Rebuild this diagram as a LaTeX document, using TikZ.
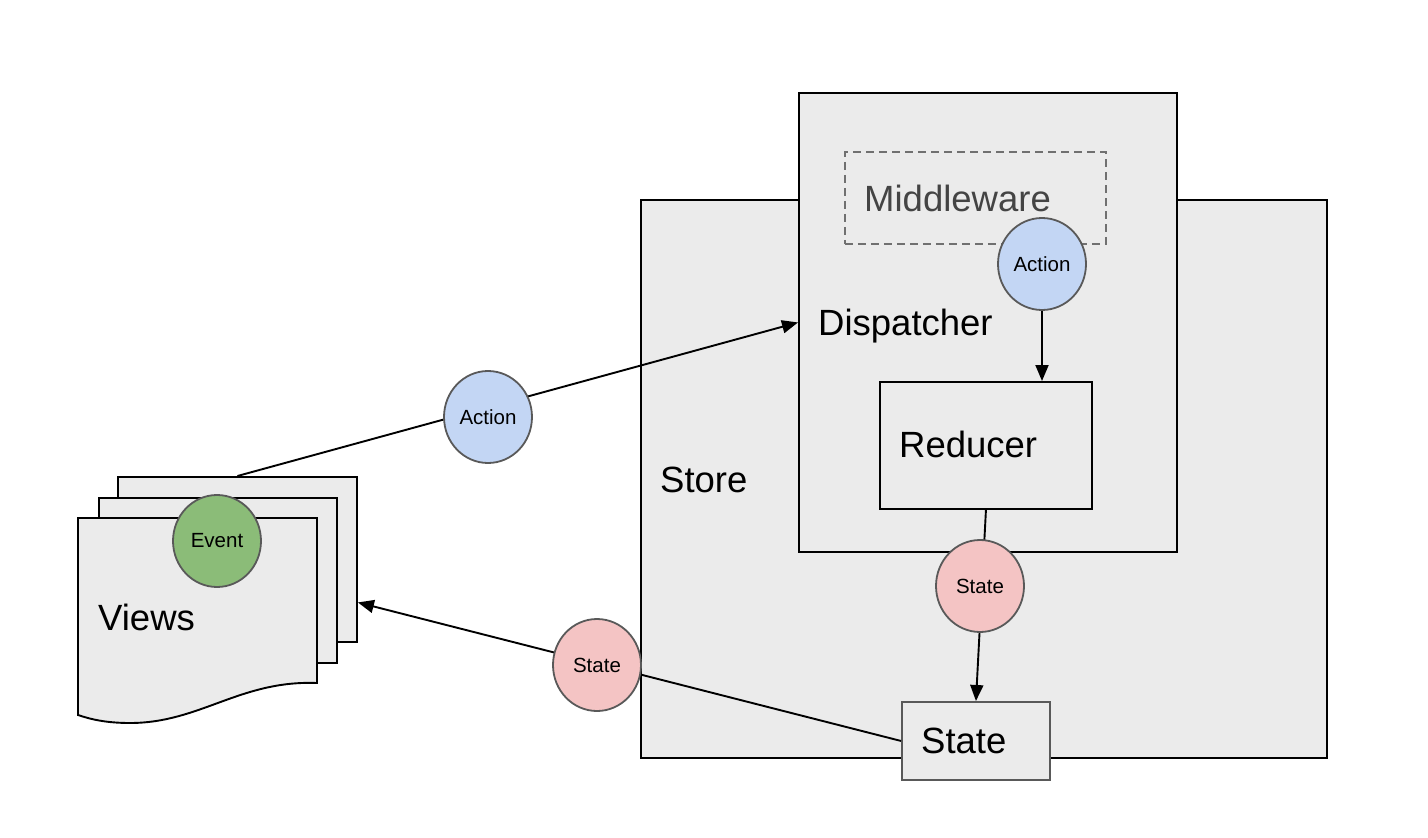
\documentclass[tikz,border=0pt]{standalone}
\usepackage{fontspec}
\setmainfont{Liberation Sans}
\usetikzlibrary{arrows.meta,shapes.geometric,calc}
\definecolor{boxfill}{HTML}{EBEBEB}
\definecolor{actfill}{HTML}{C3D6F4}
\definecolor{statefill}{HTML}{F4C4C4}
\definecolor{eventfill}{HTML}{8BBC78}
\definecolor{rimgray}{HTML}{595959}
\definecolor{dashgray}{HTML}{707070}
\definecolor{mwtext}{HTML}{444444}
\tikzset{
  panel/.style={draw=black, fill=boxfill, line width=1.9pt, rectangle, inner sep=0pt, anchor=north west},
  greypanel/.style={draw=rimgray, fill=boxfill, line width=1.9pt, rectangle, inner sep=0pt, anchor=north west},
  dashbox/.style={draw=dashgray, line width=1.8pt, dash pattern=on 8pt off 5pt, rectangle, inner sep=0pt, anchor=north west},
  bigtext/.style={inner sep=0pt, anchor=base west, font=\fontsize{36.5}{40}\selectfont},
  token/.style={ellipse, draw=rimgray, line width=1.8pt, minimum width=88pt, minimum height=92pt, inner sep=0pt, font=\fontsize{20.5}{24}\selectfont},
  actiontoken/.style={token, fill=actfill},
  statetoken/.style={token, fill=statefill},
  eventtoken/.style={token, fill=eventfill},
  flow/.style={draw=black, line width=1.9pt},
  flowarrow/.style={flow, -{Triangle[length=16pt,width=13pt]}}
}
\begin{document}
\begin{tikzpicture}[x=1pt,y=-1pt]
\useasboundingbox (0,0) rectangle (1428,838);
% store and dispatcher
\node[panel, minimum width=686pt, minimum height=558pt] (store) at (640,199) {};
\node[panel, minimum width=378pt, minimum height=459pt] (disp) at (798,92) {};
\node[dashbox, minimum width=261pt, minimum height=92pt] (mw) at (844,151) {};
\node[panel, minimum width=212pt, minimum height=127pt] (reducer) at (879,381) {};
\node[greypanel, minimum width=148pt, minimum height=78pt] (statebox) at (901,701) {};
% views pages
\node[panel, minimum width=239pt, minimum height=165pt] (back) at (117,476) {};
\node[panel, minimum width=238pt, minimum height=165pt] (middle) at (98,497) {};
\draw[draw=black, fill=boxfill, line width=1.9pt] (78,518) -- (317,518) -- (317,683)
  .. controls (240,680) and (200,723) .. (130,723)
  .. controls (105,723) and (90,719) .. (78,715) -- cycle;
% labels
\node[bigtext, text=mwtext] (mwlabel) at (864,211) {Middleware};
\node[bigtext] (displabel) at (818,335) {Dispatcher};
\node[bigtext] (reducerlabel) at (899,457) {Reducer};
\node[bigtext] (storelabel) at (660,492) {Store};
\node[bigtext] (statelabel) at (921,753) {State};
\node[bigtext] (viewslabel) at (98,630) {Views};
% connectors
\draw[flowarrow] (back.north) -- (disp.west);
\draw[flowarrow] (statebox.west) -- ([yshift=-43pt]back.east);
\draw[flowarrow] (reducer.south) -- (statebox.north);
% tokens
\node[actiontoken] (act2) at (1042,264) {Action};
\draw[flowarrow] (act2.south) -- (act2.south |- reducer.north);
\node[actiontoken] (act1) at (488,417) {Action};
\node[statetoken] (state1) at (980,586) {State};
\node[statetoken] (state2) at (597,665) {State};
\node[eventtoken] (event) at (217,541) {Event};
\end{tikzpicture}
\end{document}
